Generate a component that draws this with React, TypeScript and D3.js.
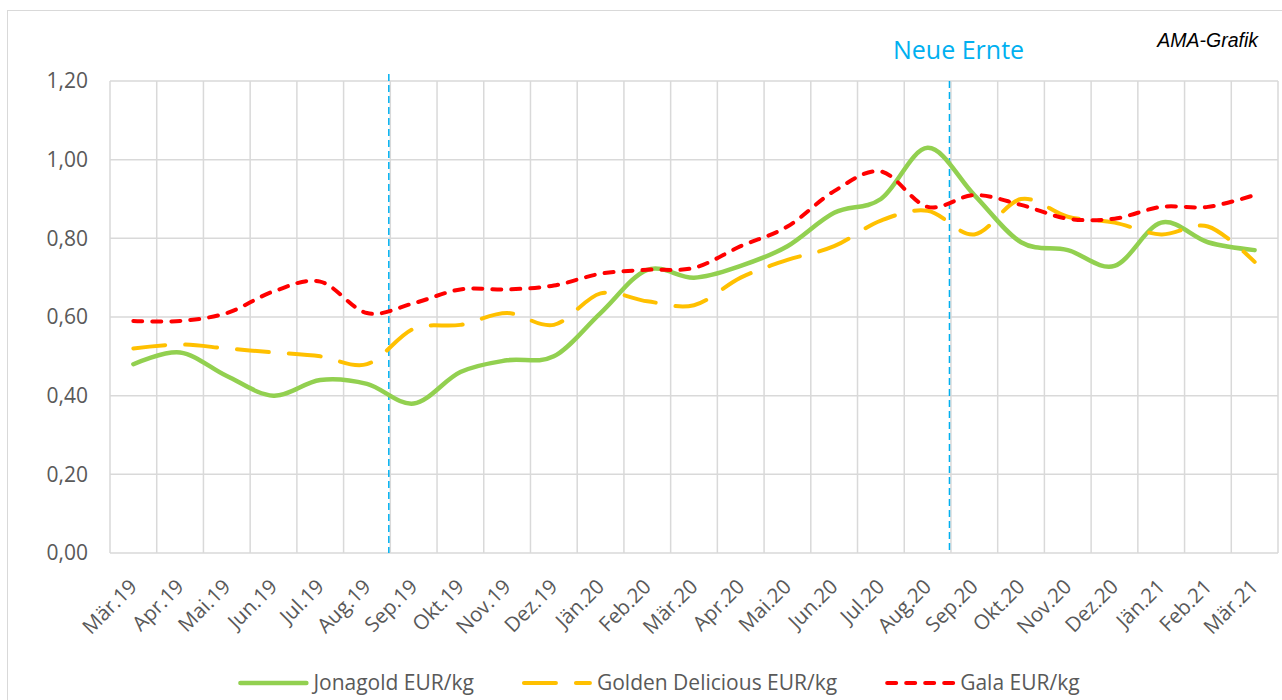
import React, { useEffect, useRef } from 'react';
import * as d3 from 'd3';

// Monatskategorien
const months = [
  'Mär.19', 'Apr.19', 'Mai.19', 'Jun.19', 'Jul.19', 'Aug.19', 'Sep.19', 'Okt.19', 'Nov.19', 'Dez.19',
  'Jän.20', 'Feb.20', 'Mär.20', 'Apr.20', 'Mai.20', 'Jun.20', 'Jul.20', 'Aug.20', 'Sep.20', 'Okt.20',
  'Nov.20', 'Dez.20', 'Jän.21', 'Feb.21', 'Mär.21',
];

// Preise EUR/kg
const jonagold = [
  0.48, 0.51, 0.45, 0.40, 0.44, 0.43, 0.38, 0.46, 0.49, 0.50,
  0.61, 0.72, 0.70, 0.73, 0.78, 0.865, 0.90, 1.03, 0.91, 0.79,
  0.77, 0.73, 0.84, 0.79, 0.77,
];
const golden = [
  0.52, 0.53, 0.52, 0.51, 0.50, 0.48, 0.57, 0.58, 0.61, 0.58,
  0.66, 0.64, 0.63, 0.70, 0.745, 0.78, 0.845, 0.87, 0.81, 0.90,
  0.855, 0.84, 0.81, 0.83, 0.74,
];
const gala = [
  0.59, 0.59, 0.61, 0.665, 0.69, 0.61, 0.635, 0.67, 0.67, 0.68,
  0.71, 0.72, 0.725, 0.78, 0.83, 0.92, 0.97, 0.88, 0.91, 0.885,
  0.85, 0.85, 0.88, 0.88, 0.91,
];

const yTicks = [0, 0.2, 0.4, 0.6, 0.8, 1.0, 1.2];
const harvestMonths = ['Sep.19', 'Sep.20'];
const seriesNames = ['Jonagold EUR/kg', 'Golden Delicious EUR/kg', 'Gala EUR/kg'];

const App = () => {
  const ref = useRef<SVGSVGElement>(null);

  useEffect(() => {
    document.body.style.margin = '0';
    const svg = d3.select(ref.current);
    svg.selectAll('*').remove();

    const W = 1282;
    const H = 700;
    const left = 110;
    const right = 1278;
    const top = 81;
    const bottom = 553;
    const grey = '#D9D9D9';
    const textCol = '#595959';
    const font = '"Open Sans", sans-serif';

    // Rahmen
    svg.append('rect')
      .attr('x', 7.5).attr('y', 10.5)
      .attr('width', W + 20).attr('height', H + 20)
      .attr('fill', '#fff').attr('stroke', grey).attr('stroke-width', 1);

    const x = d3.scaleBand().domain(months).range([left, right]).padding(0);
    const y = d3.scaleLinear().domain([0, 1.2]).range([bottom, top]);
    const cx = (m: string) => (x(m) as number) + x.bandwidth() / 2;

    // Gitternetz
    svg.append('g').selectAll('line.h')
      .data(yTicks)
      .enter().append('line')
      .attr('x1', left).attr('x2', right)
      .attr('y1', d => y(d)).attr('y2', d => y(d))
      .attr('stroke', grey).attr('stroke-width', 1.5);

    const bounds = months.map(m => x(m) as number).concat([right]);
    svg.append('g').selectAll('line.v')
      .data(bounds)
      .enter().append('line')
      .attr('x1', d => d).attr('x2', d => d)
      .attr('y1', top).attr('y2', bottom)
      .attr('stroke', grey).attr('stroke-width', 1.5);

    // Y-Achse
    svg.append('g').selectAll('text')
      .data(yTicks)
      .enter().append('text')
      .attr('x', 88).attr('y', d => y(d)).attr('dy', '0.35em')
      .attr('text-anchor', 'end')
      .attr('font-family', font).attr('font-size', 21).attr('fill', textCol)
      .text(d => d3.format('.2f')(d).replace('.', ','));

    // X-Achse
    svg.append('g').selectAll('text')
      .data(months)
      .enter().append('text')
      .attr('transform', d => `translate(${cx(d) + 5},${bottom + 35}) rotate(-45)`)
      .attr('text-anchor', 'end')
      .attr('font-family', font).attr('font-size', 20.5).attr('fill', textCol)
      .text(d => d);

    // Neue Ernte Linien
    svg.append('g').selectAll('line')
      .data(harvestMonths)
      .enter().append('line')
      .attr('x1', d => (x(d) as number) - 1.5).attr('x2', d => (x(d) as number) - 1.5)
      .attr('y1', (d, i) => (i === 0 ? 74 : 81)).attr('y2', bottom)
      .attr('stroke', '#00B0F0').attr('stroke-width', 1.5)
      .attr('stroke-dasharray', '7,4');

    svg.append('text')
      .attr('x', 893).attr('y', 59)
      .attr('font-family', font).attr('font-size', 25).attr('fill', '#00B0F0')
      .text('Neue Ernte');

    svg.append('text')
      .attr('x', 1258).attr('y', 47)
      .attr('text-anchor', 'end')
      .attr('font-family', '"Liberation Sans", Arial, sans-serif')
      .attr('font-style', 'italic').attr('font-size', 19.5).attr('fill', '#000')
      .text('AMA-Grafik');

    // Linien
    const styles = [
      { color: '#92D050', dash: null, width: 4.5 },
      { color: '#FFC000', dash: '32,20', width: 4 },
      { color: '#FF0000', dash: '9,10', width: 4 },
    ];
    const allSeries = [jonagold, golden, gala];

    const line = d3.line<number>()
      .x((d, i) => cx(months[i]))
      .y(d => y(d))
      .curve(d3.curveCardinal.tension(0));

    allSeries.forEach((s, k) => {
      svg.append('path')
        .datum(s)
        .attr('fill', 'none')
        .attr('stroke', styles[k].color)
        .attr('stroke-width', styles[k].width)
        .attr('stroke-linecap', 'round')
        .attr('stroke-dasharray', styles[k].dash)
        .attr('d', line);
    });

    // Legende
    const legend = svg.append('g');
    const symLen = 66;
    let lx = 0;
    const ly = 683;
    seriesNames.forEach((name, k) => {
      legend.append('line')
        .attr('x1', lx + 2).attr('x2', lx + 2 + symLen)
        .attr('y1', ly).attr('y2', ly)
        .attr('stroke', styles[k].color)
        .attr('stroke-width', styles[k].width)
        .attr('stroke-linecap', 'round')
        .attr('stroke-dasharray', styles[k].dash);
      const t = legend.append('text')
        .attr('x', lx + symLen + 9).attr('y', ly).attr('dy', '0.35em')
        .attr('font-family', font).attr('font-size', 21).attr('fill', textCol)
        .text(name);
      const tw = (t.node() as SVGTextElement).getComputedTextLength();
      lx += symLen + 9 + tw + (k < seriesNames.length - 1 ? 48 : 0);
    });
    legend.attr('transform', `translate(${659 - lx / 2},0)`);
  }, []);

  return (
    <svg ref={ref} width={1282} height={700} style={{ display: 'block' }}></svg>
  );
};

export default App;
